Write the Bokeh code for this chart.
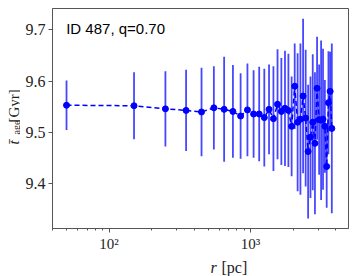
import math
from bokeh.plotting import figure
from bokeh.layouts import row, column
from bokeh.models import FixedTicker, Label, ColumnDataSource, Range1d, CustomJSTickFormatter
from bokeh.embed import file_html
from bokeh.resources import INLINE

# ---- data ----
r_pc = [50, 150, 250, 350, 450, 550, 650, 750, 850, 950,
        1050, 1150, 1250, 1350, 1450, 1550, 1650, 1750, 1850, 1950,
        2050, 2150, 2250, 2350, 2450, 2550, 2650, 2750, 2850, 2950,
        3050, 3150, 3250, 3350, 3450, 3550, 3650, 3750]
t_age = [9.553, 9.552, 9.546, 9.543, 9.540, 9.548, 9.545, 9.541, 9.532, 9.544,
         9.536, 9.536, 9.529, 9.545, 9.527, 9.555, 9.541, 9.547, 9.543, 9.512,
         9.590, 9.520, 9.526, 9.571, 9.528, 9.463, 9.491, 9.520, 9.479, 9.586,
         9.525, 9.524, 9.526, 9.512, 9.434, 9.558, 9.580, 9.508]
t_err = [0.048, 0.065, 0.073, 0.079, 0.086, 0.081, 0.102, 0.090, 0.083, 0.090,
         0.085, 0.092, 0.095, 0.087, 0.102, 0.107, 0.104, 0.112, 0.110, 0.097,
         0.083, 0.134, 0.147, 0.150, 0.133, 0.130, 0.118, 0.132, 0.138, 0.100,
         0.107, 0.155, 0.137, 0.090, 0.080, 0.100, 0.077, 0.165]
y_ticks = [9.4, 9.5, 9.6, 9.7]
x_major = [100, 1000]
x_minor = [40, 50, 60, 70, 80, 90, 200, 300, 400, 500, 600, 700, 800, 900,
           2000, 3000, 4000]
title_text = "ID 487, q=0.70"

src = ColumnDataSource(dict(
    r=r_pc, t=t_age,
    lo=[a - e for a, e in zip(t_age, t_err)],
    hi=[a + e for a, e in zip(t_age, t_err)],
))

SPINE = "#555555"
BLUE = "#0000ff"
SERIF = "Liberation Serif"
TXT = "#222222"

# ---------------- main plot ----------------
p = figure(width=337, height=254, x_axis_type="log",
           x_range=Range1d(39.8, 4920), y_range=Range1d(9.3135, 9.741),
           output_backend="svg", toolbar_location=None,
           min_border_left=32, min_border_right=9,
           min_border_top=8, min_border_bottom=25)

p.xgrid.visible = False
p.ygrid.visible = False
p.outline_line_color = SPINE
p.outline_line_width = 1

p.segment(x0="r", y0="lo", x1="r", y1="hi", source=src,
          line_color=BLUE, line_alpha=0.72, line_width=1.8)
p.line("r", "t", source=src, line_color=BLUE, line_width=1.5, line_dash="5 3")
p.scatter("r", "t", source=src, size=6, color=BLUE, marker="circle")

p.yaxis.ticker = FixedTicker(ticks=y_ticks, minor_ticks=[])
p.xaxis.ticker = FixedTicker(ticks=x_major, minor_ticks=x_minor)
p.xaxis.formatter = CustomJSTickFormatter(
    code="var m = {100: '10\u00b2', 1000: '10\u00b3'}; return m[Math.round(tick)] || '';")
for ax in (p.xaxis, p.yaxis):
    ax.axis_line_color = SPINE
    ax.major_tick_line_color = SPINE
    ax.minor_tick_line_color = SPINE
    ax.major_tick_out = 4
    ax.major_tick_in = 0
    ax.minor_tick_out = 2
    ax.minor_tick_in = 0
    ax.major_label_text_font = SERIF
    ax.major_label_text_color = TXT
p.yaxis.major_label_text_font_size = "16px"
p.xaxis.major_label_text_font_size = "15px"
p.yaxis.major_label_standoff = 3
p.xaxis.major_label_standoff = 3
p.yaxis.minor_tick_line_color = None

p.add_layout(Label(x=13.7, y=200, x_units="screen", y_units="screen",
                   text=title_text, text_font="Liberation Sans",
                   text_font_size="15px", text_color="black",
                   text_baseline="alphabetic"))

# ---------------- y-axis label strip ----------------
yl = figure(width=20, height=276, x_range=Range1d(0, 20), y_range=Range1d(0, 276),
            output_backend="svg", toolbar_location=None,
            x_axis_location=None, y_axis_location=None, min_border=0)
yl.xgrid.visible = False
yl.ygrid.visible = False
yl.outline_line_color = None
half_pi = math.pi / 2
yl.add_layout(Label(x=13, y=132, x_units="screen", y_units="screen",
                    text="t\u0304", angle=half_pi, text_font=SERIF,
                    text_font_style="italic", text_font_size="15px",
                    text_color=TXT, text_baseline="alphabetic"))
yl.add_layout(Label(x=15.5, y=142, x_units="screen", y_units="screen",
                    text="age", angle=half_pi, text_font=SERIF,
                    text_font_size="10px", text_color=TXT,
                    text_baseline="alphabetic"))
yl.add_layout(Label(x=13, y=154, x_units="screen", y_units="screen",
                    text="[Gyr]", angle=half_pi, text_font=SERIF,
                    text_font_size="15px", text_color=TXT,
                    text_baseline="alphabetic"))

# ---------------- x-axis label strip ----------------
xl = figure(width=337, height=22, x_range=Range1d(0, 337), y_range=Range1d(0, 22),
            output_backend="svg", toolbar_location=None,
            x_axis_location=None, y_axis_location=None, min_border=0)
xl.xgrid.visible = False
xl.ygrid.visible = False
xl.outline_line_color = None
xl.add_layout(Label(x=158, y=9, x_units="screen", y_units="screen",
                    text="r", text_font=SERIF, text_font_style="italic",
                    text_font_size="16px", text_color=TXT,
                    text_baseline="alphabetic"))
xl.add_layout(Label(x=169, y=9, x_units="screen", y_units="screen",
                    text="[pc]", text_font=SERIF,
                    text_font_size="16px", text_color=TXT,
                    text_baseline="alphabetic"))

layout = row(yl, column(p, xl))
open("out.html", "w").write(file_html(layout, INLINE))
